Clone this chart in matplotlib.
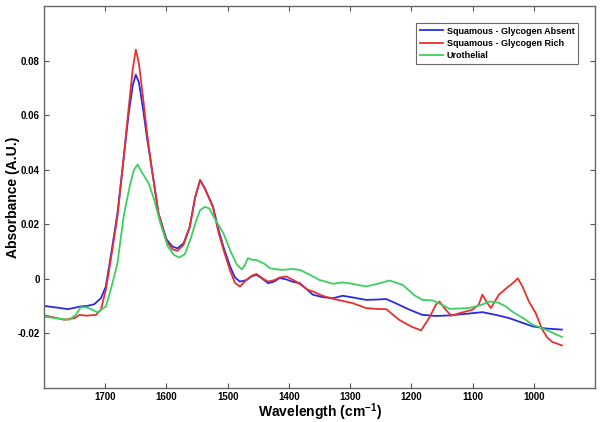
import matplotlib
matplotlib.use('Agg')
import matplotlib.pyplot as plt

plt.rcParams['font.family'] = ['Liberation Sans', 'DejaVu Sans']
plt.rcParams['mathtext.fontset'] = 'custom'
plt.rcParams['mathtext.rm'] = 'Liberation Sans'
plt.rcParams['mathtext.bf'] = 'Liberation Sans:bold'

# wavenumber / absorbance
wn_absent = [1800, 1780, 1761, 1750, 1740, 1729, 1718, 1707, 1699, 1691, 1680, 1671, 1662, 1655,
             1650, 1645, 1638, 1632, 1625, 1613, 1600, 1590, 1582, 1572, 1562, 1553, 1545, 1537,
             1524, 1515, 1507, 1496, 1488, 1480, 1470, 1460, 1453, 1443, 1434, 1424, 1415, 1404,
             1395, 1382, 1370, 1361, 1345, 1328, 1312, 1296, 1274, 1258, 1241, 1225, 1203, 1182,
             1160, 1138, 1110, 1084, 1060, 1040, 1020, 1002, 980, 954]
abs_absent = [-0.0099, -0.0105, -0.0111, -0.0106, -0.0101, -0.0099, -0.0093, -0.0071, -0.0028,
              0.0082, 0.024, 0.042, 0.060, 0.071, 0.0748, 0.072, 0.062, 0.052, 0.042, 0.024,
              0.0145, 0.0118, 0.0112, 0.013, 0.019, 0.030, 0.0362, 0.033, 0.0265, 0.018, 0.0118,
              0.0045, 0.0005, -0.001, -0.0005, 0.001, 0.0015, 0.0, -0.0016, -0.001, 0.0003,
              -0.0002, -0.001, -0.0016, -0.004, -0.0058, -0.0067, -0.0071, -0.0062, -0.0068,
              -0.0077, -0.0076, -0.0074, -0.009, -0.0113, -0.0132, -0.0136, -0.0134, -0.0128,
              -0.0122, -0.0133, -0.0144, -0.016, -0.0174, -0.0182, -0.0186]

wn_rich = [1800, 1780, 1767, 1750, 1742, 1731, 1715, 1707, 1699, 1691, 1680, 1671, 1662, 1655,
           1650, 1645, 1638, 1632, 1625, 1613, 1600, 1590, 1582, 1572, 1562, 1553, 1545, 1537,
           1524, 1515, 1507, 1496, 1488, 1480, 1470, 1460, 1453, 1443, 1434, 1424, 1415, 1404,
           1395, 1388, 1369, 1361, 1345, 1328, 1296, 1274, 1258, 1241, 1220, 1200, 1184, 1170,
           1160, 1154, 1145, 1135, 1120, 1100, 1090, 1084, 1077, 1070, 1057, 1043, 1034, 1026,
           1018, 1008, 997, 986, 978, 970, 954]
abs_rich = [-0.0134, -0.0143, -0.015, -0.0144, -0.0132, -0.0135, -0.0132, -0.0113, -0.004,
            0.0069, 0.023, 0.042, 0.062, 0.077, 0.084, 0.079, 0.066, 0.054, 0.042, 0.024,
            0.0138, 0.0108, 0.0103, 0.0125, 0.019, 0.030, 0.0362, 0.033, 0.0262, 0.017, 0.0108,
            0.003, -0.0015, -0.0028, -0.0005, 0.0012, 0.0018, 0.0002, -0.001, -0.0005, 0.0005,
            0.0009, -0.0002, -0.001, -0.004, -0.0046, -0.0062, -0.0073, -0.0089, -0.0107,
            -0.011, -0.0111, -0.015, -0.0175, -0.0189, -0.014, -0.0095, -0.0083, -0.011,
            -0.0135, -0.0125, -0.0113, -0.0095, -0.0058, -0.0085, -0.0107, -0.0058, -0.0031,
            -0.0015, 0.0002, -0.003, -0.0083, -0.0125, -0.0186, -0.0215, -0.0231, -0.0244]

wn_uro = [1800, 1772, 1759, 1748, 1740, 1731, 1721, 1713, 1699, 1691, 1680, 1670, 1660, 1653,
          1647, 1640, 1629, 1620, 1610, 1598, 1588, 1579, 1570, 1560, 1552, 1545, 1537, 1530,
          1521, 1507, 1495, 1485, 1477, 1472, 1467, 1460, 1453, 1440, 1431, 1420, 1410, 1395,
          1382, 1366, 1350, 1328, 1312, 1296, 1274, 1255, 1236, 1214, 1195, 1182, 1165, 1150,
          1138, 1106, 1085, 1073, 1058, 1046, 1035, 1013, 1002, 989, 954]
abs_uro = [-0.0138, -0.0147, -0.015, -0.0132, -0.0104, -0.0104, -0.0113, -0.0123, -0.0101,
           -0.004, 0.0057, 0.0228, 0.034, 0.040, 0.0419, 0.039, 0.035, 0.029, 0.0204, 0.012,
           0.0088, 0.0078, 0.009, 0.015, 0.021, 0.0252, 0.0264, 0.0258, 0.022, 0.0167, 0.010,
           0.0052, 0.0035, 0.005, 0.0076, 0.007, 0.0069, 0.0055, 0.0039, 0.0035, 0.0033,
           0.0036, 0.0033, 0.0015, -0.0004, -0.0018, -0.0013, -0.0018, -0.0028, -0.0018,
           -0.0006, -0.0022, -0.006, -0.0077, -0.0079, -0.0095, -0.011, -0.0107, -0.0095,
           -0.0083, -0.0087, -0.0101, -0.012, -0.015, -0.0168, -0.0178, -0.0213]

labels = ['Squamous - Glycogen Absent', 'Squamous - Glycogen Rich', 'Urothelial']
x_ticks = [1700, 1600, 1500, 1400, 1300, 1200, 1100, 1000]
y_ticks = [-0.02, 0, 0.02, 0.04, 0.06, 0.08]
y_ticklabels = ['-0.02', '0', '0.02', '0.04', '0.06', '0.08']

fig = plt.figure(figsize=(6.02, 4.22), dpi=100)
ax = fig.add_axes([44 / 602, 1 - 388 / 422, 551 / 602, 382 / 422])

ax.plot(wn_absent, abs_absent, color='#2a2ae6', lw=1.3, label=labels[0])
ax.plot(wn_rich, abs_rich, color='#e8302e', lw=1.3, label=labels[1])
ax.plot(wn_uro, abs_uro, color='#3ad060', lw=1.3, label=labels[2])

ax.set_xlim(1800, 900)
ax.set_ylim(-0.04, 0.1)
ax.set_xticks(x_ticks)
ax.set_xticklabels([str(t) for t in x_ticks], fontweight='bold')
ax.set_yticks(y_ticks)
ax.set_yticklabels(y_ticklabels, fontweight='bold')
ax.tick_params(direction='in', length=3.5, width=0.8, color='#555555', labelsize=7,
               top=True, right=True, pad=3)
for s in ax.spines.values():
    s.set_color('#666666')
    s.set_linewidth(1.0)

ax.set_xlabel(r'Wavelength (cm$^{\mathbf{-1}}$)', fontsize=10, fontweight='bold')
ax.set_ylabel('Absorbance (A.U.)', fontsize=10, fontweight='bold')
ax.xaxis.set_label_coords(0.5, -0.034)
ax.yaxis.set_label_coords(-0.044, 0.5)

leg = ax.legend(loc='upper right', bbox_to_anchor=(578 / 602, 1 - 23 / 422),
                bbox_transform=fig.transFigure, borderaxespad=0, fancybox=False,
                prop={'size': 6.5, 'weight': 'bold'}, handlelength=2.6, handletextpad=0.4,
                labelspacing=0.35, borderpad=0.4)
leg.get_frame().set_edgecolor('#444444')
leg.get_frame().set_linewidth(0.8)

fig.savefig('out.png', dpi=100)
